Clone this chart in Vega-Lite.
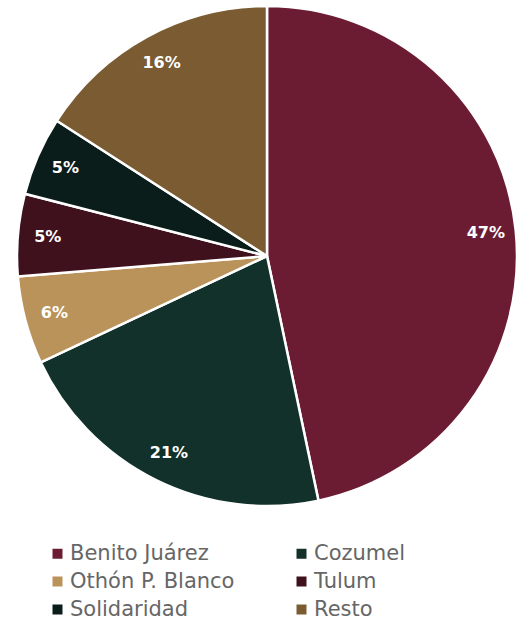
{
  "$schema": "https://vega.github.io/schema/vega-lite/v6.json",
  "autosize": "none",
  "width": 534,
  "height": 512,
  "padding": {"top": 0, "left": 0, "right": 0, "bottom": 108},
  "background": "white",
  "config": {"view": {"stroke": null}, "font": "DejaVu Sans"},
  "data": {"values": [
    {"municipio": "Benito Juárez", "share": 0.467, "orden": 1},
    {"municipio": "Cozumel", "share": 0.213, "orden": 2},
    {"municipio": "Othón P. Blanco", "share": 0.057, "orden": 3},
    {"municipio": "Tulum", "share": 0.053, "orden": 4},
    {"municipio": "Solidaridad", "share": 0.051, "orden": 5},
    {"municipio": "Resto", "share": 0.159, "orden": 6}
  ]},
  "encoding": {
    "theta": {"field": "share", "type": "quantitative", "stack": true},
    "order": {"field": "orden", "type": "quantitative"}
  },
  "layer": [
    {
      "mark": {"type": "arc", "outerRadius": 250, "stroke": "white", "strokeWidth": 2.5},
      "encoding": {
        "color": {
          "field": "municipio", "type": "nominal",
          "sort": ["Benito Juárez", "Cozumel", "Othón P. Blanco", "Tulum", "Solidaridad", "Resto"],
          "scale": {
            "domain": ["Benito Juárez", "Cozumel", "Othón P. Blanco", "Tulum", "Solidaridad", "Resto"],
            "range": ["#6B1C33", "#12312B", "#BA935B", "#3F111D", "#0B1D1A", "#7A5B32"]
          },
          "legend": {
            "title": null,
            "orient": "none",
            "legendX": 47,
            "legendY": 543,
            "direction": "horizontal",
            "columns": 2,
            "columnPadding": 56,
            "rowPadding": 6,
            "symbolType": "square",
            "symbolSize": 100,
            "symbolStrokeWidth": 0,
            "labelFontSize": 21,
            "labelLimit": 400,
            "labelColor": "#666666",
            "labelFont": "DejaVu Sans",
            "symbolOffset": 0,
            "labelOffset": 2
          }
        }
      }
    },
    {
      "mark": {"type": "text", "radius": 220, "color": "white", "fontWeight": "bold", "fontSize": 16, "font": "DejaVu Sans"},
      "encoding": {
        "text": {"field": "share", "type": "quantitative", "format": ".0%"}
      }
    }
  ]
}
